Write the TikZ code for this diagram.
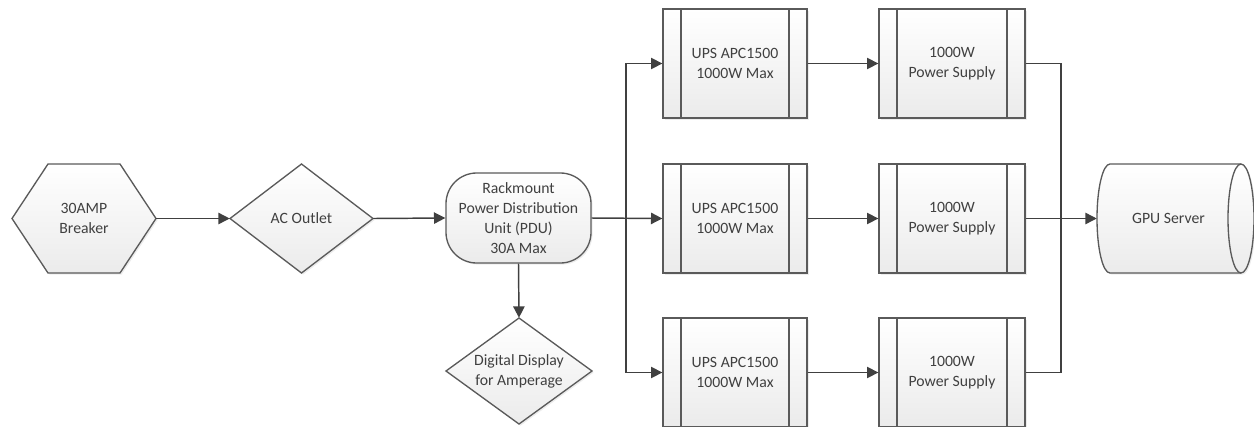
\documentclass[tikz,border=0pt]{standalone}
\usepackage{fontspec}
\setmainfont{Carlito}
\usetikzlibrary{arrows.meta,shadows}
\definecolor{edgecol}{HTML}{5A5A5A}
\definecolor{linecol}{HTML}{404040}
\definecolor{txtcol}{HTML}{404040}
\definecolor{fillbot}{HTML}{EBEBEB}
\tikzset{
  shapefill/.style={draw=edgecol, line width=1pt, top color=white, bottom color=fillbot,
    drop shadow={opacity=0.15, shadow xshift=1.2pt, shadow yshift=-1.2pt}},
  txtnode/.style={align=center, text=txtcol, font=\fontsize{11.8}{15}\selectfont, inner sep=0pt},
  procbox/.style={txtnode, rectangle, shapefill, minimum height=81.75pt,
    path picture={\draw[edgecol,line width=1pt]
      ([xshift=13.5pt]path picture bounding box.north west) -- ([xshift=13.5pt]path picture bounding box.south west)
      ([xshift=-13.5pt]path picture bounding box.north east) -- ([xshift=-13.5pt]path picture bounding box.south east);}},
  conn/.style={draw=linecol, line width=1.1pt},
  arr/.style={conn, -{Triangle[length=8.5pt,width=8.5pt]}}
}
\begin{document}
\begin{tikzpicture}[x=0.75pt,y=-0.75pt]
\useasboundingbox (0,0) rectangle (1254,426);
% outlines drawn first
\path[shapefill] (12,218.5) -- (48,164) -- (120,164) -- (156,218.5) -- (120,273) -- (48,273) -- cycle;
\path[shapefill] (230,218.5) -- (301.5,164) -- (373,218.5) -- (301.5,273) -- cycle;
\path[shapefill] (446,371) -- (519,318) -- (592,371) -- (519,424) -- cycle;
\path[shapefill] (1110,164) -- (1241,164) arc[start angle=90,end angle=-90,x radius=9.75pt,y radius=40.875pt]
  -- (1110,273) arc[start angle=270,end angle=90,x radius=9.75pt,y radius=40.875pt] -- cycle;
\draw[edgecol,line width=1pt] (1241,164) arc[start angle=90,end angle=270,x radius=9.75pt,y radius=40.875pt];

% nodes
\node[txtnode, minimum width=108pt, minimum height=81.75pt] (brk) at (84,218.5) {30AMP\\Breaker};
\node[txtnode, minimum width=107.25pt, minimum height=81.75pt] (ac) at (301.5,218.5) {AC Outlet};
\node[txtnode, rectangle, rounded corners=23pt, shapefill, minimum width=108.75pt, minimum height=67.5pt] (pdu) at (518.5,218)
  {Rackmount\\Power Distribution\\Unit (PDU)\\30A Max};
\node[txtnode, minimum width=109.5pt, minimum height=79.5pt] (dd) at (519,371) {Digital Display\\for Amperage};

\node[procbox, minimum width=108pt] (ups1) at (735,63.5) {UPS APC1500\\1000W Max};
\node[procbox, minimum width=108pt] (ups2) at (735,218.5) {UPS APC1500\\1000W Max};
\node[procbox, minimum width=108pt] (ups3) at (735,372.5) {UPS APC1500\\1000W Max};
\node[procbox, minimum width=109.5pt] (ps1) at (952,63.5) {1000W\\Power Supply};
\node[procbox, minimum width=109.5pt] (ps2) at (952,218.5) {1000W\\Power Supply};
\node[procbox, minimum width=109.5pt] (ps3) at (952,372.5) {1000W\\Power Supply};

\node[txtnode, minimum width=107.25pt, minimum height=81.75pt] (gpu) at (1168.5,218.5) {GPU Server};

\coordinate (split) at (626,218.5);
\coordinate (join) at (1061,218.5);

% connectors
\draw[arr] (brk.east) -- (ac.west);
\draw[arr] (ac.east) -- (pdu.west);
\draw[arr] (pdu.south) -- (dd.north);
\draw[arr] (pdu.east) -- (ups2.west);
\draw[arr] (split) |- (ups1.west);
\draw[arr] (split) |- (ups3.west);
\draw[arr] (ups1.east) -- (ps1.west);
\draw[arr] (ups2.east) -- (ps2.west);
\draw[arr] (ups3.east) -- (ps3.west);
\draw[conn] (ps1.east) -| (join);
\draw[conn] (ps3.east) -| (join);
\draw[arr] (ps2.east) -- (gpu.west);
\end{tikzpicture}
\end{document}
